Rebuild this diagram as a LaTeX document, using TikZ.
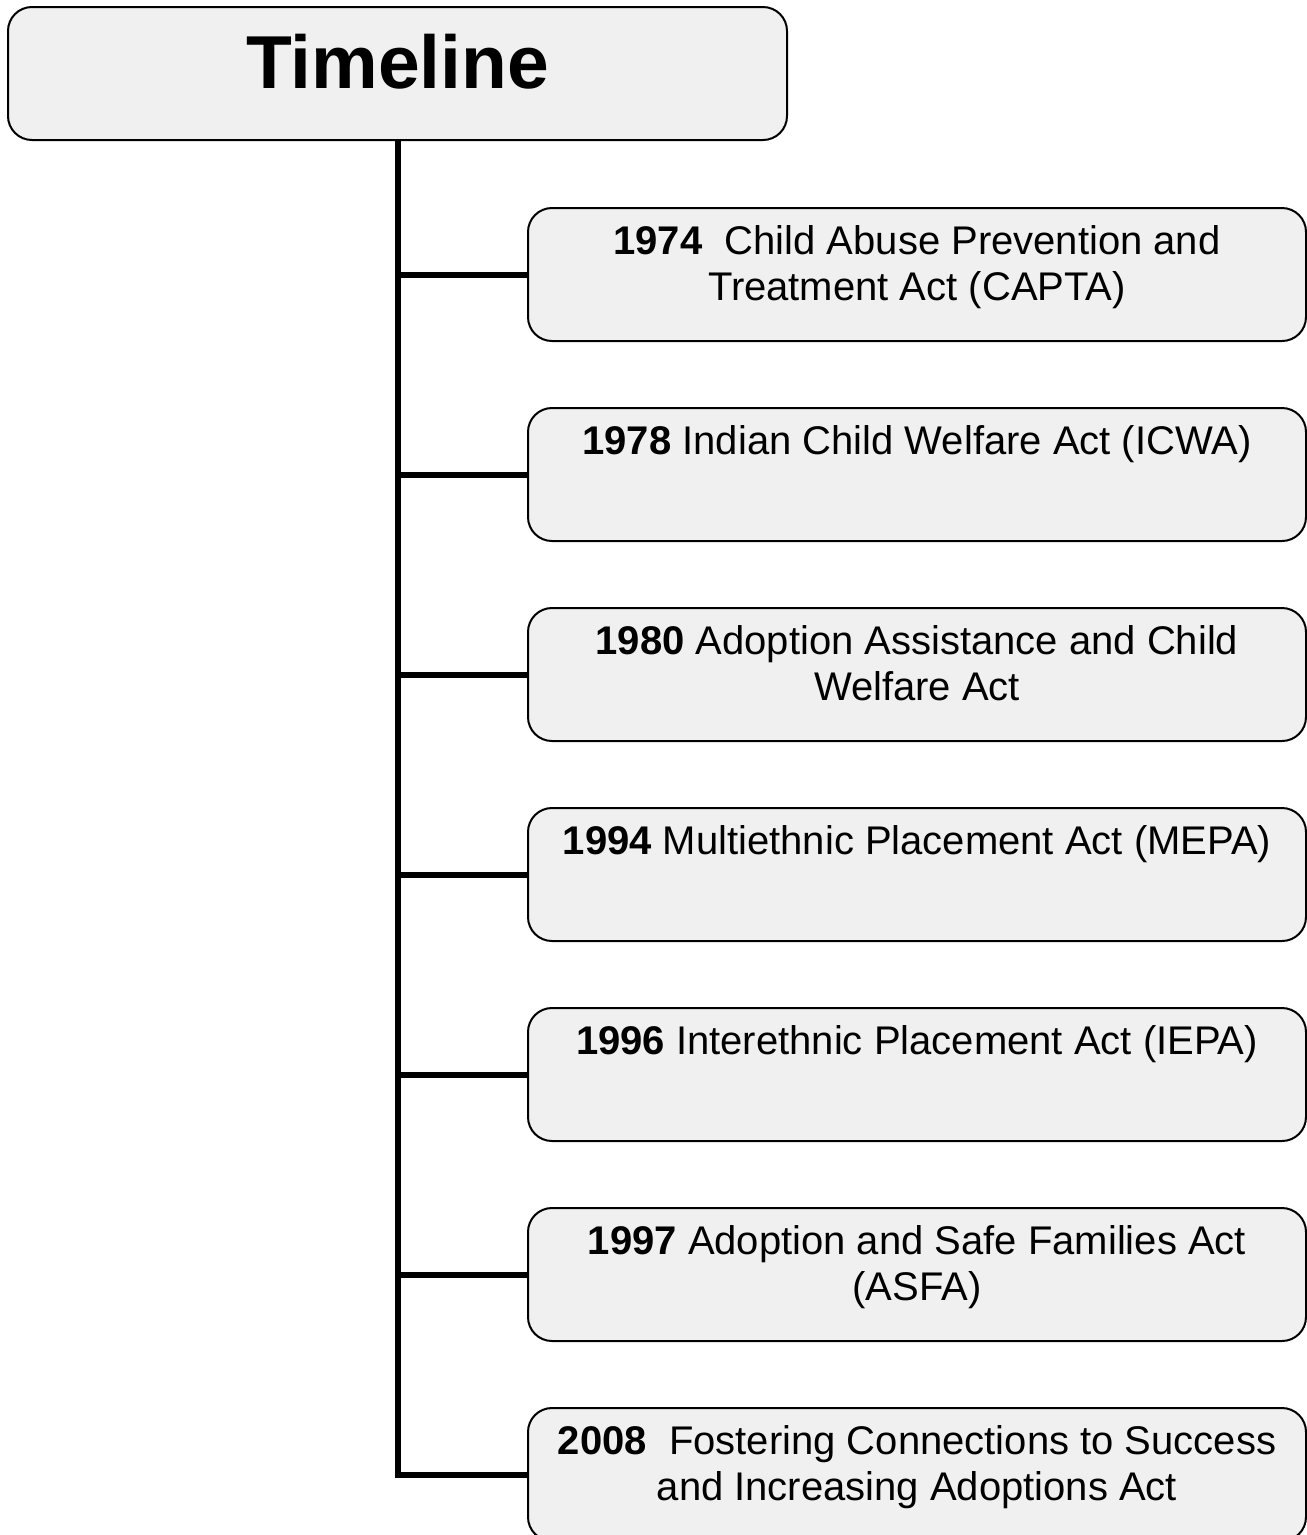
\documentclass[tikz,border=0pt]{standalone}
\usepackage{fontspec}
\setmainfont{Liberation Sans}
\usetikzlibrary{backgrounds}
\definecolor{panelgray}{RGB}{240,240,240}
\begin{document}
\begin{tikzpicture}[x=1pt,y=-1pt,
  panel/.style={draw=black, line width=2pt, fill=panelgray, rounded corners=24pt,
    inner sep=0pt, minimum height=133pt},
  actbox/.style={panel, minimum width=778pt},
  acttext/.style={anchor=north, inner sep=0pt, align=center,
    font=\fontsize{40}{46}\selectfont},
  spine/.style={draw=black, line width=6pt, line join=miter}]
\clip (0,0) rectangle (1307,1535);

% heading
\node[panel, minimum width=779pt] (title) at (397.5,73.5) {};
\node[anchor=base, inner sep=0pt, font=\bfseries\fontsize{75}{80}\selectfont]
  (titletext) at (397.5,88) {Timeline};

% one box per act
\newcommand{\topstrut}{\rule{0pt}{32pt}}
\foreach \k/\txt in {
  1/{\topstrut\textbf{1974}\ \ Child Abuse Prevention and\\Treatment Act (CAPTA)},
  2/{\topstrut\textbf{1978} Indian Child Welfare Act (ICWA)},
  3/{\topstrut\textbf{1980} Adoption Assistance and Child\\Welfare Act},
  4/{\topstrut\textbf{1994} Multiethnic Placement Act (MEPA)},
  5/{\topstrut\textbf{1996} Interethnic Placement Act (IEPA)},
  6/{\topstrut\textbf{1997} Adoption and Safe Families Act\\(ASFA)},
  7/{\topstrut\textbf{2008}\ \ Fostering Connections to Success\\and Increasing Adoptions Act}}{
  \node[actbox] (b\k) at (917,{74.5+200*\k}) {};
  \node[acttext] (t\k) at (917,{22+200*\k}) {\txt};
}

% timeline spine and branches
\begin{scope}[on background layer]
  \draw[spine] (title.south) -- (title.south |- b7.west) -- (b7.west);
  \foreach \k in {1,...,6}
    \draw[spine] (title.south |- b\k.west) -- (b\k.west);
\end{scope}
\end{tikzpicture}
\end{document}
